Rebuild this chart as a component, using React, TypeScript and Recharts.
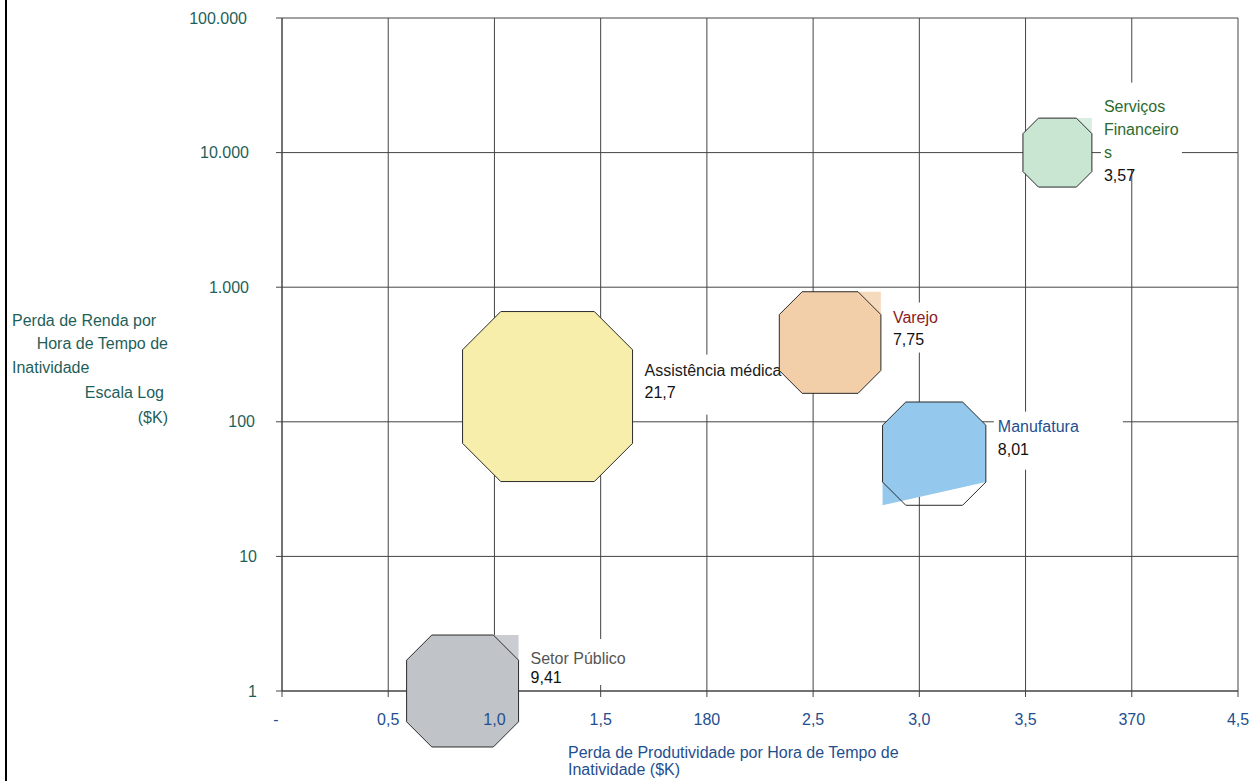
import { ScatterChart, Scatter, XAxis, YAxis, ZAxis, CartesianGrid } from "recharts";

const sectors = ["Serviços Financeiros", "Varejo", "Assistência médica", "Manufatura", "Setor Público"];
const sectorLabelLines = [["Serviços", "Financeiro", "s"], ["Varejo"], ["Assistência médica"], ["Manufatura"], ["Setor Público"]];
const productivityLoss = [3.65, 2.58, 1.25, 3.07, 0.85];
const revenueLoss = [10000, 388, 154, 58, 1];
const bubbleSize = [3.57, 7.75, 21.7, 8.01, 9.41];
const bubbleSizeLabels = ["3,57", "7,75", "21,7", "8,01", "9,41"];

const xTicks = [0, 0.5, 1, 1.5, 2, 2.5, 3, 3.5, 4, 4.5];
const xTickLabels = ["-", "0,5", "1,0", "1,5", "180", "2,5", "3,0", "3,5", "370", "4,5"];
const yTicks = [1, 10, 100, 1000, 10000, 100000];
const yTickLabels = ["1", "10", "100", "1.000", "10.000", "100.000"];

const FONT = "'Liberation Sans', Arial, sans-serif";
const GRID = "#444";

// per-sector look: fills, label colour, label block offsets, white box behind the label
const looks: Record<string, any> = {
  "Serviços Financeiros": { fill: "#c9e6d3", corner: "#d7eee0", text: "#2e6b2e", gap: 23, top: -46, box: [-3, -24, 81, 87] },
  Varejo: { fill: "#f2cfa8", corner: "#f6dabd", text: "#8b1a1a", gap: 22, top: -25, box: [-12, -15, 70, 50] },
  "Assistência médica": { fill: "#f8eeab", text: "#1a1a1a", gap: 22, top: -26, box: [-7, -16, 142, 60] },
  Manufatura: { fill: "#94c9ed", text: "#1f4f8f", gap: 23, top: -27, box: [-4, -15, 129, 58], skew: true },
  "Setor Público": { fill: "#c0c3c8", corner: "#caccd1", text: "#555", gap: 19, top: -33, box: [-12, -19, 122, 46] },
};

const data = sectors.map((name, i) => ({
  name,
  x: productivityLoss[i],
  y: revenueLoss[i],
  z: bubbleSize[i],
  lines: sectorLabelLines[i],
  sizeLabel: bubbleSizeLabels[i],
}));

const pts = (p: number[][]) => p.map((q) => q.join(",")).join(" ");

function Octagon(props: any) {
  const { cx, cy, payload } = props;
  const r = (props.width ?? Math.sqrt(props.size / Math.PI) * 2) / 2;
  const look = looks[payload.name];
  const L = cx - r, R = cx + r, T = cy - r, B = cy + r, c = 0.45 * r;
  const outline = [[L, T + c], [L + c, T], [R - c, T], [R, T + c], [R, B - c], [R - c, B], [L + c, B], [L, B - c]];
  const fillShape = look.skew
    ? [[L, T + c], [L + c, T], [R - c, T], [R, T + c], [R, B - c], [L, B]]
    : outline;
  return (
    <g>
      <polygon points={pts(fillShape)} fill={look.fill} stroke="none" />
      {look.corner && <polygon points={pts([[R - c, T], [R, T], [R, T + c]])} fill={look.corner} stroke="none" />}
      <polygon points={pts(outline)} fill="none" stroke="#2a2a2a" strokeWidth={1} />
    </g>
  );
}

function SectorLabel(props: any) {
  const { cx, cy, payload } = props;
  const r = (props.width ?? Math.sqrt(props.size / Math.PI) * 2) / 2;
  const look = looks[payload.name];
  const x0 = cx + r + 12;
  const y0 = cy + look.top;
  const [bx, by, bw, bh] = look.box;
  return (
    <g fontFamily={FONT} fontSize={16}>
      <rect x={x0 + bx} y={y0 + by} width={bw} height={bh} fill="#fff" />
      {payload.lines.map((t: string, k: number) => (
        <text key={k} x={x0} y={y0 + k * look.gap} dy="0.35em" fill={look.text}>
          {t}
        </text>
      ))}
      <text x={x0} y={y0 + payload.lines.length * look.gap} dy="0.35em" fill="#111">
        {payload.sizeLabel}
      </text>
    </g>
  );
}

function XTick(props: any) {
  const { x, y, payload } = props;
  const label = xTickLabels[xTicks.indexOf(payload.value)];
  return (
    <text x={x + (label === "-" ? -6 : 0)} y={y + 26} textAnchor="middle" fill="#1f4f8f" fontFamily={FONT} fontSize={16}>
      {label}
    </text>
  );
}

const yShift: Record<number, number> = { 100000: -5, 10000: -3, 1000: -3, 100: 3, 10: 5, 1: 5 };

function YTick(props: any) {
  const { x, y, payload } = props;
  const label = yTickLabels[yTicks.indexOf(payload.value)];
  return (
    <text x={x - 22 + (yShift[payload.value] ?? 0)} y={y} dy="0.35em" textAnchor="end" fill="#1f5f5a" fontFamily={FONT} fontSize={16}>
      {label}
    </text>
  );
}

export default function App() {
  return (
    <div style={{ position: "absolute", left: 0, top: 0, width: 1260, height: 781, background: "#fff", fontFamily: FONT }}>
      <ScatterChart width={1260} height={781} margin={{ top: 18, right: 22, left: 202, bottom: 60 }}>
        <CartesianGrid stroke={GRID} strokeWidth={1} />
        <XAxis
          type="number"
          dataKey="x"
          domain={[0, 4.5]}
          ticks={xTicks}
          height={30}
          tick={<XTick />}
          tickSize={6}
          axisLine={{ stroke: GRID }}
          tickLine={{ stroke: GRID }}
          interval={0}
        />
        <YAxis
          type="number"
          dataKey="y"
          scale="log"
          domain={[1, 100000]}
          ticks={yTicks}
          width={80}
          tick={<YTick />}
          tickSize={6}
          axisLine={{ stroke: GRID }}
          tickLine={{ stroke: GRID }}
          interval={0}
        />
        <ZAxis type="number" dataKey="z" domain={[0, 25]} range={[0, 26150]} />
        <Scatter data={data} shape={SectorLabel} isAnimationActive={false} />
        <Scatter data={data} shape={Octagon} isAnimationActive={false} />
      </ScatterChart>
      <div style={{ position: "absolute", left: 5, top: 0, width: 2, height: 781, background: "#000" }} />
      <svg width={1260} height={781} style={{ position: "absolute", left: 0, top: 0, pointerEvents: "none" }}>
        <g fontFamily={FONT} fontSize={16} fill="#1f5f5a">
          <text x={12} y={320} dy="0.35em">Perda de Renda por</text>
          <text x={168} y={343} dy="0.35em" textAnchor="end">Hora de Tempo de</text>
          <text x={12} y={367} dy="0.35em">Inatividade</text>
          <text x={164} y={392} dy="0.35em" textAnchor="end">Escala Log</text>
          <text x={168} y={417} dy="0.35em" textAnchor="end">($K)</text>
        </g>
        <g fontFamily={FONT} fontSize={16} fill="#1f4f8f">
          <text x={568} y={758}>Perda de Produtividade por Hora de Tempo de</text>
          <text x={568} y={775}>Inatividade ($K)</text>
        </g>
      </svg>
    </div>
  );
}
